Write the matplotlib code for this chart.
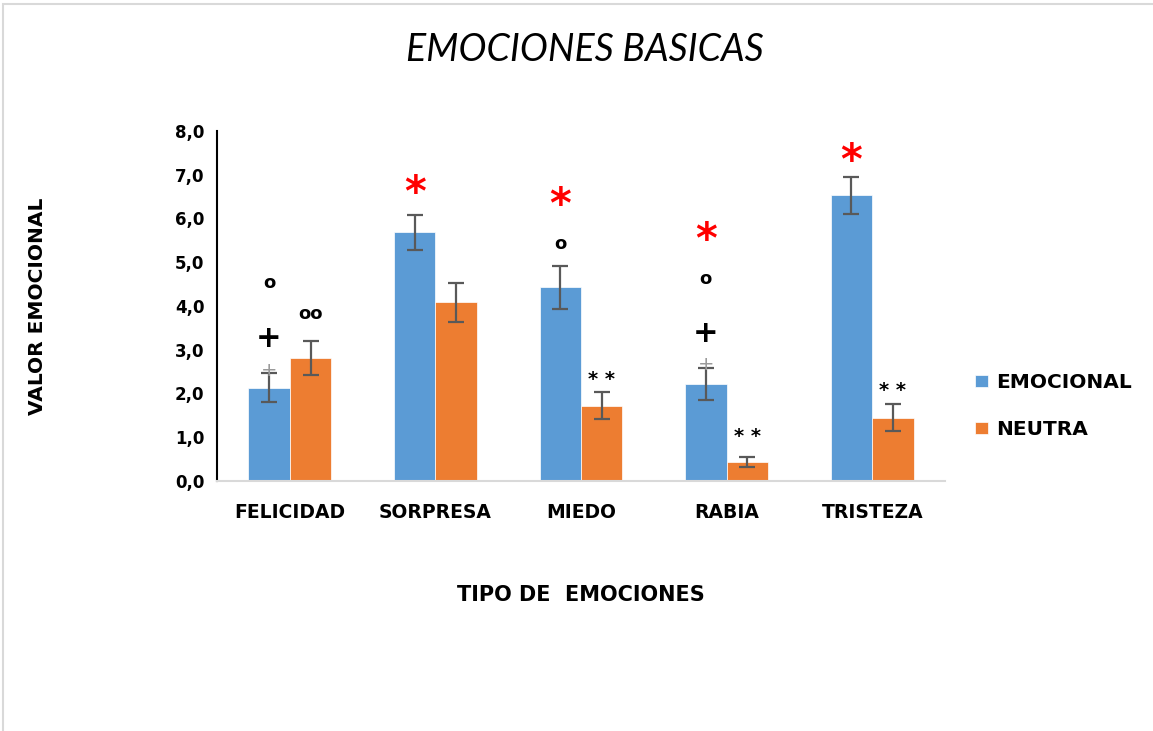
import matplotlib
matplotlib.use("Agg")
import matplotlib.pyplot as plt
import numpy as np
from matplotlib.patches import Rectangle
from matplotlib.ticker import FuncFormatter

categories = ["FELICIDAD", "SORPRESA", "MIEDO", "RABIA", "TRISTEZA"]
emocional = [2.13, 5.68, 4.43, 2.22, 6.53]
emocional_err = [0.33, 0.41, 0.49, 0.36, 0.42]
neutra = [2.81, 4.08, 1.72, 0.43, 1.45]
neutra_err = [0.39, 0.44, 0.31, 0.12, 0.30]
series_names = ["EMOCIONAL", "NEUTRA"]
y_ticks = [0, 1, 2, 3, 4, 5, 6, 7, 8]

# significance marks: (category index, series 0/1, y value, text, kind)
marks = [
    (0, 0, 4.53, "°", "circ"),
    (0, 0, 3.25, "+", "plus"),
    (0, 1, 3.82, "°°", "circ"),
    (1, 0, 6.55, "*", "red"),
    (2, 0, 6.28, "*", "red"),
    (2, 0, 5.42, "°", "circ"),
    (2, 1, 2.32, "* *", "star"),
    (3, 0, 5.48, "*", "red"),
    (3, 0, 4.62, "°", "circ"),
    (3, 0, 3.36, "+", "plus"),
    (3, 1, 1.02, "* *", "star"),
    (4, 0, 7.30, "*", "red"),
    (4, 1, 2.07, "* *", "star"),
]
gray_marks = [(0, 0, 2.52), (3, 0, 2.66)]

BLUE = "#5B9BD5"
ORANGE = "#ED7D31"
FONT = "DejaVu Sans"

fig = plt.figure(figsize=(11.53, 7.31), dpi=100)
fig.patches.append(Rectangle((0.003, -0.01), 1.1, 1.004, transform=fig.transFigure,
                             fill=False, edgecolor="#d9d9d9", linewidth=1.5))
ax = fig.add_axes([0.1882, 0.342, 0.6314, 0.4788])

x = np.arange(len(categories))
w = 0.285
err_kw = dict(ecolor="#595959", elinewidth=1.6, capsize=6, capthick=1.6)
ax.bar(x - w / 2, emocional, w, yerr=emocional_err, color=BLUE, edgecolor="white",
       linewidth=0.5, label=series_names[0], error_kw=err_kw)
ax.bar(x + w / 2, neutra, w, yerr=neutra_err, color=ORANGE, edgecolor="white",
       linewidth=0.5, label=series_names[1], error_kw=err_kw)

for ci, s, yv, txt, kind in marks:
    xp = ci - w / 2 if s == 0 else ci + w / 2
    if kind == "red":
        ax.text(xp, yv, txt, color="red", fontsize=30, fontweight="bold",
                ha="center", va="center", family="DejaVu Sans")
    elif kind == "circ":
        ax.text(xp, yv, "o" * len(txt), color="black", fontsize=13, fontweight="bold",
                ha="center", va="center", family="DejaVu Sans")
    elif kind == "plus":
        ax.text(xp, yv, txt, color="black", fontsize=22, fontweight="bold",
                ha="center", va="center", family="DejaVu Sans")
    else:
        ax.text(xp, yv, txt, color="black", fontsize=14, fontweight="bold",
                ha="center", va="center", family="DejaVu Sans")

for ci, s, yv in gray_marks:
    xp = ci - w / 2 if s == 0 else ci + w / 2
    ax.text(xp, yv, "+", color="#9a9a9a", fontsize=14, ha="center", va="center",
            family="DejaVu Sans")

ax.set_xlim(-0.5, len(categories) - 0.5)
ax.set_ylim(0, 8)
ax.set_yticks(y_ticks)
ax.yaxis.set_major_formatter(FuncFormatter(lambda v, p: f"{v:.1f}".replace(".", ",")))
ax.set_xticks(x)
ax.set_xticklabels(categories)
ax.tick_params(axis="both", length=0)
ax.tick_params(axis="x", pad=16, labelsize=13.5)
ax.tick_params(axis="y", pad=9, labelsize=12)
for lab in ax.get_xticklabels() + ax.get_yticklabels():
    lab.set_fontweight("bold")
    lab.set_family(FONT)

for sp in ["top", "right"]:
    ax.spines[sp].set_visible(False)
ax.spines["left"].set_color("black")
ax.spines["left"].set_linewidth(1.5)
ax.spines["bottom"].set_color("#d9d9d9")
ax.spines["bottom"].set_linewidth(1.5)

ax.set_xlabel("TIPO DE  EMOCIONES", fontsize=15, fontweight="bold", family=FONT, labelpad=45)
ax.set_ylabel("VALOR EMOCIONAL", fontsize=14.5, fontweight="bold", family=FONT, labelpad=92)

fig.text(0.507, 0.931, "EMOCIONES BASICAS", fontsize=27, style="italic", family="Lato",
         fontweight="normal", ha="center", va="center")

leg = ax.legend(loc="center left", bbox_to_anchor=(1.017, 0.214), frameon=False,
                prop={"family": FONT, "weight": "bold", "size": 14.5},
                handlelength=0.6, handleheight=0.6, labelspacing=1.4, handletextpad=0.4)

fig.savefig("out.png", dpi=100, facecolor="white")
